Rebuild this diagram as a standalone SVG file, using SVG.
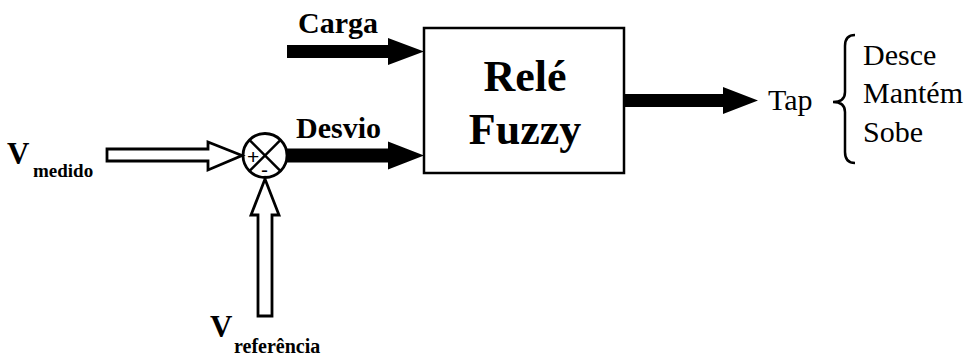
<svg xmlns="http://www.w3.org/2000/svg" width="974" height="360" viewBox="0 0 974 360">
<style>
.b{font-family:"Liberation Serif","Times New Roman",serif;font-weight:bold;fill:#000}
.r{font-family:"Liberation Serif","Times New Roman",serif;fill:#000}
.s{font-family:"Liberation Sans",Arial,sans-serif;fill:#000}
.solid{fill:#000;stroke:none}
.hollow{fill:#fff;stroke:#000;stroke-width:2.8;stroke-linejoin:miter}
.ln{fill:none;stroke:#000;stroke-width:2.5}
</style>
<rect width="974" height="360" fill="#fff"/>
<g id="rele">
<rect x="424" y="28" width="200" height="145" fill="#fff" stroke="#000" stroke-width="2.5"/>
<text class="b" x="525" y="91" font-size="44" text-anchor="middle">Relé</text>
<text class="b" x="525" y="144" font-size="44" text-anchor="middle">Fuzzy</text>
</g>
<g id="somador">
<circle cx="265" cy="155.5" r="22" fill="#fff" stroke="#000" stroke-width="2.8"/>
<line class="ln" x1="249.4" y1="139.9" x2="280.6" y2="171.1" stroke-width="1.5"/>
<line class="ln" x1="280.6" y1="139.9" x2="249.4" y2="171.1" stroke-width="1.5"/>
<text class="s" x="247" y="164" font-size="21">+</text>
<text class="s" x="261" y="177" font-size="21">-</text>
</g>
<g id="vmedido">
<text class="b" x="7" y="164" font-size="31">V</text>
<text class="b" x="33" y="177" font-size="19">medido</text>
</g>
<g id="vreferencia">
<text class="b" x="210" y="337" font-size="31">V</text>
<text class="b" x="234" y="353" font-size="20">referência</text>
</g>
<g id="carga">
<text class="b" x="298" y="33" font-size="30">Carga</text>
</g>
<g id="desvio">
<text class="b" x="296" y="138" font-size="30">Desvio</text>
</g>
<g id="tap">
<text class="r" x="768" y="110" font-size="30">Tap</text>
<path class="ln" d="M855,35 Q845,35 845,46 L845,92 Q845,102 833,102 Q845,102 845,112 L845,152 Q845,163 855,163"/>
<text class="r" x="863" y="65" font-size="30">Desce</text>
<text class="r" x="863" y="103" font-size="30">Mantém</text>
<text class="r" x="863" y="142" font-size="30">Sobe</text>
</g>
<g id="connectors">
<polygon class="solid" points="287,45 388,45 388,38 424,51.5 388,65 388,58 287,58"/>
<polygon class="solid" points="286,148.5 388,148.5 388,141.5 424,155.5 388,169.5 388,162.5 286,162.5"/>
<polygon class="solid" points="624,94 723,94 723,87 758,100.5 723,114 723,107 624,107"/>
<polygon class="hollow" points="107,149 208,149 208,142 242,155.5 208,170 208,161 107,161"/>
<polygon class="hollow" points="258,316 258,215 251,215 265,179 279,215 272,215 272,316"/>
</g>
</svg>
